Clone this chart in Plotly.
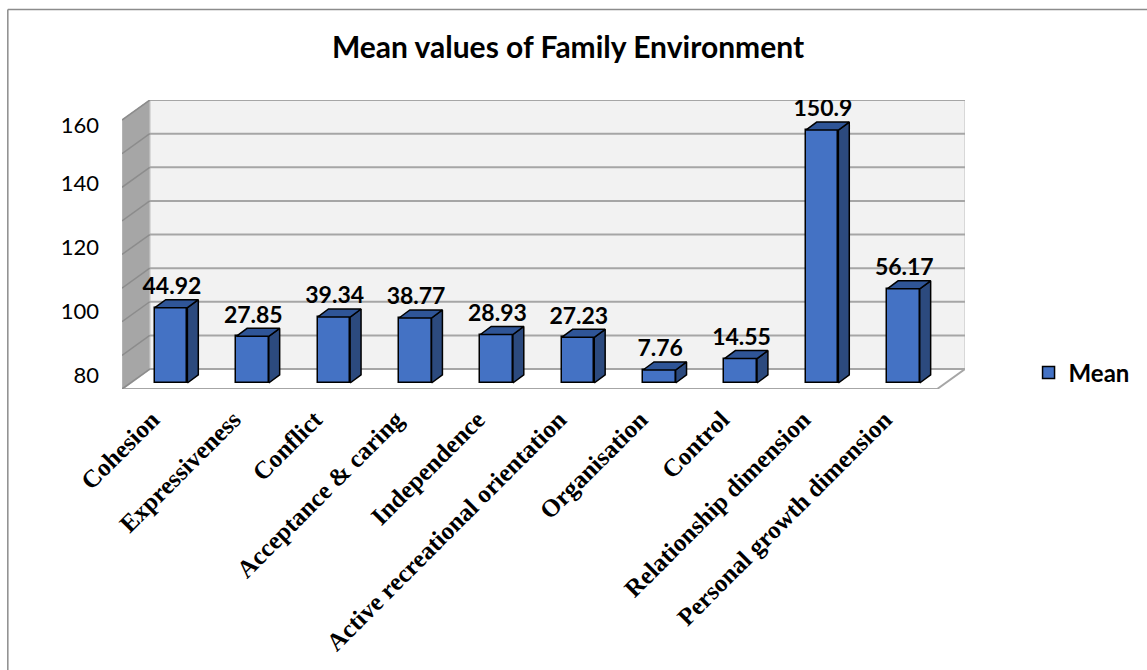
import plotly.graph_objects as go
import numpy as np

# ---------------- data ----------------
categories = ["Cohesion", "Expressiveness", "Conflict", "Acceptance & caring",
              "Independence", "Active recreational orientation", "Organisation",
              "Control", "Relationship dimension", "Personal growth dimension"]
mean_values = [44.92, 27.85, 39.34, 38.77, 28.93, 27.23, 7.76, 14.55, 150.9, 56.17]
value_labels = ["44.92", "27.85", "39.34", "38.77", "28.93", "27.23", "7.76", "14.55", "150.9", "56.17"]
y_tick_text = ["80", "100", "120", "140", "160"]
y_tick_pos = [4.8, 43.0, 81.1, 119.3, 153.9]
series_name = "Mean"
title_text = "Mean values of Family Environment"

# ---------------- style / geometry (data units) ----------------
BAR_W = 0.40
BAR_DX = 0.134      # bar depth, x
BAR_DY = 4.8        # bar depth, y
BOX_X0 = -0.6037
BOX_X1 = 9.4146
BOX_DX = 0.3415
BOX_DY = 11.93
FLOOR_Y = -3.58
WALL_H = 160.5
GRID_STEP = 20.06

FRONT = "#4472C4"
SIDE = "#2C4A7E"
TOP = "#2F5597"
EDGE = "#000000"

x = np.arange(len(categories))
v = np.array(mean_values)

fig = go.Figure()

# ---------- walls (shapes beneath traces) ----------
shapes = []
def poly(pts):
    return "M " + " L ".join(f"{a},{b}" for a, b in pts) + " Z"

# back wall
bx0, bx1 = BOX_X0 + BOX_DX, BOX_X1 + BOX_DX
by0, by1 = FLOOR_Y + BOX_DY, FLOOR_Y + BOX_DY + WALL_H
shapes.append(dict(type="path", path=poly([(bx0, by0), (bx1, by0), (bx1, by1), (bx0, by1)]),
                   fillcolor="#F2F2F2", line=dict(color="#BFBFBF", width=1), layer="below"))
# side wall
shapes.append(dict(type="path", path=poly([(BOX_X0, FLOOR_Y), (BOX_X0, FLOOR_Y + WALL_H),
                                           (bx0, by1), (bx0, by0)]),
                   fillcolor="#A6A6A6", line=dict(color="#BFBFBF", width=1), layer="below"))
# floor
shapes.append(dict(type="path", path=poly([(BOX_X0, FLOOR_Y), (BOX_X1, FLOOR_Y), (bx1, by0), (bx0, by0)]),
                   fillcolor="#FFFFFF", line=dict(color="#A6A6A6", width=2), layer="below"))
# gridlines
for k in range(9):
    gy = by0 + k * GRID_STEP
    shapes.append(dict(type="line", x0=bx0, x1=bx1, y0=gy, y1=gy,
                       line=dict(color="#A6A6A6", width=2), layer="below"))
    shapes.append(dict(type="line", x0=BOX_X0, x1=bx0, y0=FLOOR_Y + k * GRID_STEP, y1=gy,
                       line=dict(color="#8C8C8C", width=1.5), layer="below"))

# outer frame
shapes.append(dict(type="line", xref="paper", yref="paper", x0=(7 - 122) / 849, x1=1.3,
                   y0=1 + 90.5 / 289, y1=1 + 90.5 / 289, line=dict(color="#8C8C8C", width=1.5)))
shapes.append(dict(type="line", xref="paper", yref="paper", x0=(7 - 122) / 849, x1=(7 - 122) / 849,
                   y0=1 + 90.5 / 289, y1=-1.2, line=dict(color="#8C8C8C", width=1.5)))

# ---------- bars: front faces ----------
fig.add_trace(go.Bar(x=x, y=v, width=BAR_W, name="<b>" + series_name + "</b>",
                     marker=dict(color=FRONT, line=dict(color=EDGE, width=1.5)),
                     showlegend=True))

# ---------- bars: side + top faces ----------
sx, sy, tx, ty = [], [], [], []
for xi, vi in zip(x, v):
    r = xi + BAR_W / 2
    l = xi - BAR_W / 2
    sx += [r, r + BAR_DX, r + BAR_DX, r, r, None]
    sy += [0, BAR_DY, vi + BAR_DY, vi, 0, None]
    tx += [l, r, r + BAR_DX, l + BAR_DX, l, None]
    ty += [vi, vi, vi + BAR_DY, vi + BAR_DY, vi, None]
fig.add_trace(go.Scatter(x=sx, y=sy, mode="lines", fill="toself", fillcolor=SIDE,
                         line=dict(color=EDGE, width=1.5), showlegend=False, hoverinfo="skip"))
fig.add_trace(go.Scatter(x=tx, y=ty, mode="lines", fill="toself", fillcolor=TOP,
                         line=dict(color=EDGE, width=1.5), showlegend=False, hoverinfo="skip"))

# ---------- value labels ----------
fig.add_trace(go.Scatter(x=x + 0.01, y=v + BAR_DY, mode="text", text=value_labels,
                         textposition="top center",
                         textfont=dict(family="Lato", size=23, color="#000000", weight="bold"),
                         showlegend=False, hoverinfo="skip"))

fig.update_layout(
    width=1147, height=670, autosize=False,
    margin=dict(l=122, r=176, t=100, b=281),
    paper_bgcolor="white", plot_bgcolor="rgba(0,0,0,0)",
    shapes=shapes,
    title=dict(text="<b>" + title_text + "</b>", x=568 / 1147, xanchor="center",
               y=1 - 47 / 670, yanchor="middle",
               font=dict(family="Lato", size=30, color="#000000")),
    legend=dict(x=(1035 - 122) / 849, xanchor="left", y=(389 - 373) / 289, yanchor="middle",
                font=dict(family="Lato", size=24, color="#000000"),
                bgcolor="rgba(0,0,0,0)"),
    bargap=0,
)
fig.update_xaxes(range=[BOX_X0, BOX_X1 + BOX_DX], tickmode="array", tickvals=list(x),
                 ticktext=categories, tickangle=-45, showgrid=False, zeroline=False,
                 showline=False, ticks="", ticklabelshift=-19, ticklabelstandoff=10,
                 tickfont=dict(family="Liberation Serif", size=25, color="#000000", weight="bold"))
fig.update_yaxes(range=[FLOOR_Y, FLOOR_Y + BOX_DY + WALL_H], tickmode="array",
                 tickvals=y_tick_pos, ticktext=y_tick_text, showgrid=False, zeroline=False,
                 showline=False, ticks="", ticklabelstandoff=22,
                 tickfont=dict(family="Lato", size=22, color="#000000"))

fig.write_html("out.html")
